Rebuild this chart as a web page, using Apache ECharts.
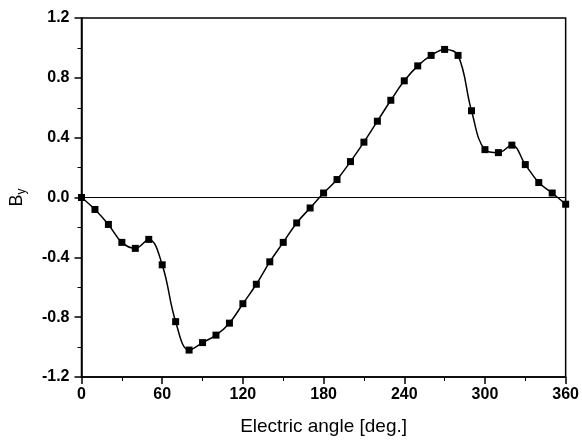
<!DOCTYPE html>
<html><head><meta charset="utf-8">
<script src="https://cdn.jsdelivr.net/npm/echarts@6/dist/echarts.min.js"></script>
<style>html,body{margin:0;padding:0;background:#fff}#c{width:582px;height:443px}</style>
</head><body><div id="c"></div>
<script>
const angles = [0,10,20,30,40,50,60,70,80,90,100,110,120,130,140,150,160,170,180,190,200,210,220,230,240,250,260,270,280,290,300,310,320,330,340,350,360];
const byValues = [0.0,-0.08,-0.18,-0.30,-0.34,-0.28,-0.45,-0.83,-1.02,-0.97,-0.92,-0.84,-0.71,-0.58,-0.43,-0.30,-0.17,-0.07,0.03,0.12,0.24,0.37,0.51,0.65,0.78,0.88,0.95,0.99,0.95,0.58,0.32,0.30,0.35,0.22,0.10,0.03,-0.045];
const xTicks = {min:0,max:360,interval:60};
const yTicks = {min:-1.2,max:1.2,interval:0.4};

const chart = echarts.init(document.getElementById('c'), null, {renderer:'canvas'});
const font = '"Liberation Sans", Arial, sans-serif';
chart.setOption({
  animation:false,
  backgroundColor:'#fff',
  grid:{left:81,right:15,top:18,bottom:66,show:true,borderColor:'#000',borderWidth:1.5,backgroundColor:'transparent'},
  xAxis:[{
    type:'value',min:xTicks.min,max:xTicks.max,interval:xTicks.interval,
    name:'Electric angle [deg.]',nameLocation:'middle',nameGap:40,
    nameTextStyle:{fontFamily:font,fontSize:19,color:'#000'},
    axisLine:{show:true,onZero:false,lineStyle:{color:'#000',width:1.5}},
    axisTick:{show:true,inside:false,length:7,lineStyle:{color:'#000',width:1.5}},
    minorTick:{show:true,splitNumber:2,length:4,lineStyle:{color:'#000',width:1}},
    splitLine:{show:false},
    axisLabel:{fontFamily:font,fontSize:16,fontWeight:'bold',color:'#000',margin:10}
  }],
  yAxis:[{
    type:'value',min:yTicks.min,max:yTicks.max,interval:yTicks.interval,
    name:'{b|B}{s|y}',nameLocation:'middle',nameGap:54,nameRotate:90,
    nameTextStyle:{rich:{b:{fontFamily:font,fontSize:18,color:'#000'},s:{fontFamily:font,fontSize:12,color:'#000',verticalAlign:'bottom',padding:[9,0,0,0]}}},
    axisLine:{show:true,onZero:false,lineStyle:{color:'#000',width:1.5}},
    axisTick:{show:true,inside:false,length:7,lineStyle:{color:'#000',width:1.5}},
    minorTick:{show:true,splitNumber:2,length:4,lineStyle:{color:'#000',width:1}},
    splitLine:{show:false},
    axisLabel:{fontFamily:font,fontSize:16,fontWeight:'bold',color:'#000',margin:12,
      formatter:function(v){return v.toFixed(1);}}
  }],
  series:[{
    type:'line',
    data:angles.map((a,i)=>[a,byValues[i]]),
    smooth:0.4,
    symbol:'rect',symbolSize:7,
    itemStyle:{color:'#000'},
    lineStyle:{color:'#000',width:1.5},
    markLine:{silent:true,symbol:'none',label:{show:false},
      lineStyle:{color:'#000',width:1.2,type:'solid'},
      data:[{yAxis:0}]}
  }]
});
</script></body></html>
